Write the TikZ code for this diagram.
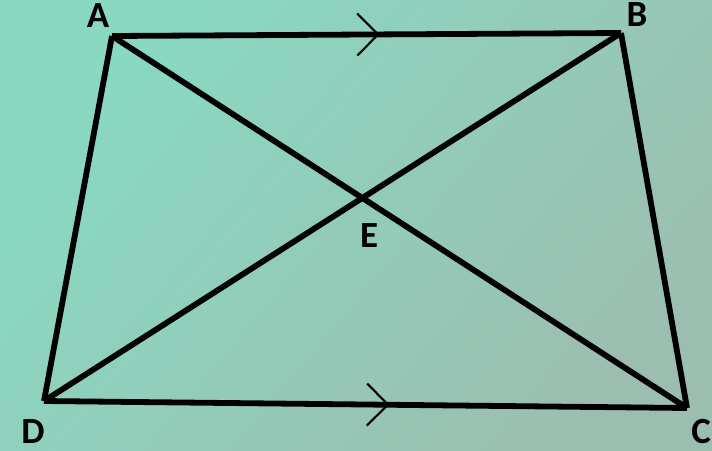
\documentclass[tikz,border=0pt]{standalone}
\usepackage{fontspec}
\setsansfont{Carlito}
\usepackage{tikz}
\usetikzlibrary{calc,intersections,decorations.markings}

\definecolor{bgtop}{RGB}{137,217,194}
\definecolor{bgbot}{RGB}{156,190,176}

\tikzset{
  side/.style={line width=3.3pt, line join=miter},
  parmark/.style={postaction={decorate, decoration={markings,
      mark=at position #1 with {\draw[line width=1.2pt] (-21,-21) -- (0,0) -- (-21,21);}}}},
  vlabel/.style={font=\sffamily\bfseries\fontsize{21}{24}\selectfont, inner sep=0pt}
}

\begin{document}
\begin{tikzpicture}[x=0.02cm, y=-0.02cm]
    \useasboundingbox (0,0) rectangle (712,450);
    \shade[top color=bgtop, bottom color=bgbot, shading angle=50] (0,0) rectangle (712,450);
    % corners of the trapezium
    \coordinate (A) at (112,36);
    \coordinate (B) at (621,33);
    \coordinate (C) at (687,408);
    \coordinate (D) at (44,401);
    % sides, AB parallel to DC
    \draw[side, parmark=0.523] (A) -- (B);
    \draw[side, parmark=0.535] (D) -- (C);
    \draw[side] (A) -- (D);
    \draw[side] (B) -- (C);
    % diagonals
    \draw[side, name path=ac] (A) -- (C);
    \draw[side, name path=bd] (B) -- (D);
    \path[name intersections={of=ac and bd, by=E}];
    \node[vlabel] (lA) at (98,16) {A};
    \node[vlabel] (lB) at (637,15) {B};
    \node[vlabel] (lE) at (369,236) {E};
    \node[vlabel] (lD) at (33,432) {D};
    \node[vlabel] (lC) at (701,432) {C};
  \end{tikzpicture}
\end{document}
